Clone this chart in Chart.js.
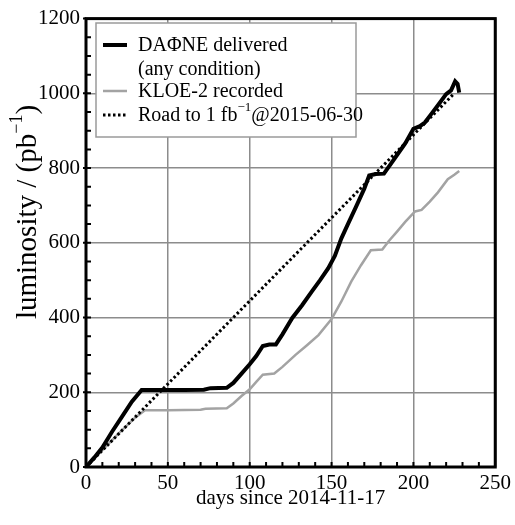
<!DOCTYPE html>
<html>
<head>
<meta charset="utf-8">
<script src="https://cdn.jsdelivr.net/npm/chart.js@4/dist/chart.umd.min.js"></script>
<style>
html,body{margin:0;padding:0;background:#fff;}
#wrap{width:515px;height:525px;position:relative;}
</style>
</head>
<body>
<div id="wrap"><canvas id="c"></canvas></div>
<script>
// ---- data ----
const xTickValues = [0, 50, 100, 150, 200, 250];
const yTickValues = [0, 200, 400, 600, 800, 1000, 1200];

const dafneDays = [0, 5, 10, 16, 22, 28, 34, 45, 60, 72, 76, 86, 90, 95, 100, 104, 108, 112, 116, 120, 126, 132, 138, 143, 148, 152, 156, 160, 165, 170, 173, 177, 182, 186, 190, 195, 200, 204, 207, 211, 215, 220, 223, 225.5, 227, 228];
const dafneLumi = [0, 25, 52, 95, 135, 175, 206, 206, 206, 207, 211, 212, 225, 250, 275, 297, 324, 328, 328, 355, 399, 433, 470, 500, 532, 565, 612, 650, 697, 745, 780, 784, 785, 810, 835, 866, 905, 912, 922, 945, 968, 998, 1008, 1032, 1025, 1002];

const kloeDays = [0, 10, 20, 30, 36, 50, 70, 73, 86, 90, 95, 100, 104, 108, 115, 120, 128, 135, 142, 150, 156, 162, 168, 174, 181, 185, 190, 195, 201, 205, 210, 215, 221, 225, 228];
const kloeLumi = [0, 45, 90, 132, 152, 152, 153, 156, 157, 170, 190, 208, 228, 247, 250, 268, 300, 326, 353, 396, 443, 496, 540, 580, 582, 605, 630, 656, 684, 688, 710, 735, 770, 782, 792];

const roadDays = [0, 225];
const roadLumi = [0, 1000];

const seriesNames = ['DAΦNE delivered', 'KLOE-2 recorded', 'Road to 1 fb'];
const xTitle = 'days since 2014-11-17';

const FONT = "'Liberation Serif', 'Times New Roman', serif";

function pts(xs, ys) { return xs.map((x, i) => ({ x: x, y: ys[i] })); }

const framePlugin = {
  id: 'frameAndExtras',
  afterDraw(chart) {
    const ctx = chart.ctx;
    const a = chart.chartArea;
    const xs = chart.scales.x, ys = chart.scales.y;
    ctx.save();
    // minor ticks (inward)
    ctx.strokeStyle = '#000';
    ctx.lineWidth = 2;
    ctx.beginPath();
    for (let d = 10; d < 250; d += 10) {
      const px = xs.getPixelForValue(d);
      ctx.moveTo(px, a.bottom);
      ctx.lineTo(px, a.bottom - 5);
    }
    for (let v = 50; v < 1200; v += 50) {
      const py = ys.getPixelForValue(v);
      ctx.moveTo(a.left, py);
      ctx.lineTo(a.left + 5, py);
    }
    // major y ticks outward
    yTickValues.forEach(v => {
      const py = ys.getPixelForValue(v);
      ctx.moveTo(a.left - 3, py);
      ctx.lineTo(a.left, py);
    });
    ctx.stroke();
    // frame
    ctx.lineWidth = 3;
    ctx.strokeRect(a.left, a.top, a.right - a.left, a.bottom - a.top);

    // legend box
    const ds = chart.data.datasets;
    const bx = 96, by = 23, bw = 260, bh = 114;
    ctx.fillStyle = '#fff';
    ctx.fillRect(bx, by, bw, bh);
    ctx.strokeStyle = '#9a9a9a';
    ctx.lineWidth = 1.5;
    ctx.strokeRect(bx, by, bw, bh);

    const rows = [
      { ds: ds[0], y: 46, text: seriesNames[0] },
      { ds: null, y: 70, text: '(any condition)' },
      { ds: ds[1], y: 92, text: seriesNames[1] },
      { ds: ds[2], y: 116, text: seriesNames[2], sup: '−1', after: '@2015-06-30' }
    ];
    ctx.font = '20px ' + FONT;
    ctx.textBaseline = 'middle';
    ctx.textAlign = 'left';
    rows.forEach(r => {
      if (r.ds) {
        ctx.save();
        ctx.strokeStyle = r.ds.borderColor;
        ctx.lineWidth = r.ds.borderWidth;
        ctx.setLineDash(r.ds.borderDash || []);
        ctx.beginPath();
        ctx.moveTo(103, r.y - 1);
        ctx.lineTo(127, r.y - 1);
        ctx.stroke();
        ctx.restore();
      }
      ctx.fillStyle = '#000';
      ctx.font = '20px ' + FONT;
      ctx.fillText(r.text, 138, r.y);
      if (r.sup) {
        let x = 138 + ctx.measureText(r.text).width;
        ctx.font = '13px ' + FONT;
        ctx.fillText(r.sup, x, r.y - 8);
        x += ctx.measureText(r.sup).width;
        ctx.font = '20px ' + FONT;
        ctx.fillText(r.after, x, r.y);
      }
    });

    // x title
    ctx.fillStyle = '#000';
    ctx.font = '21px ' + FONT;
    ctx.textAlign = 'center';
    ctx.textBaseline = 'middle';
    ctx.fillText(xTitle, (a.left + a.right) / 2, 498);

    // y title (rotated), with superscript
    const main1 = 'luminosity / (pb', sup = '−1', main2 = ')';
    ctx.save();
    ctx.translate(28, 212);
    ctx.rotate(-Math.PI / 2);
    ctx.textAlign = 'left';
    ctx.font = '29px ' + FONT;
    const w1 = ctx.measureText(main1).width;
    const w3 = ctx.measureText(main2).width;
    ctx.font = '18px ' + FONT;
    const w2 = ctx.measureText(sup).width;
    let x0 = -(w1 + w2 + w3) / 2;
    ctx.font = '29px ' + FONT;
    ctx.fillText(main1, x0, 0);
    ctx.font = '18px ' + FONT;
    ctx.fillText(sup, x0 + w1, -11);
    ctx.font = '29px ' + FONT;
    ctx.fillText(main2, x0 + w1 + w2, 0);
    ctx.restore();

    ctx.restore();
  }
};

new Chart(document.getElementById('c'), {
  type: 'scatter',
  data: {
    datasets: [
      { label: seriesNames[0], data: pts(dafneDays, dafneLumi), showLine: true, borderColor: '#000', borderWidth: 4, pointRadius: 0, tension: 0, order: 1 },
      { label: seriesNames[1], data: pts(kloeDays, kloeLumi), showLine: true, borderColor: '#a3a3a3', borderWidth: 2.5, pointRadius: 0, tension: 0, order: 3 },
      { label: seriesNames[2], data: pts(roadDays, roadLumi), showLine: true, borderColor: '#000', borderWidth: 3, borderDash: [2.5, 2.5], pointRadius: 0, tension: 0, order: 2 }
    ]
  },
  options: {
    responsive: true,
    maintainAspectRatio: false,
    animation: false,
    events: [],
    layout: { padding: { left: 0, top: 15, right: 16, bottom: 0 } },
    plugins: { legend: { display: false }, tooltip: { enabled: false } },
    scales: {
      x: {
        type: 'linear', min: 0, max: 250,
        afterBuildTicks: s => { s.ticks = xTickValues.map(v => ({ value: v })); },
        afterFit: s => { s.height = 58; },
        ticks: { font: { family: FONT, size: 21 }, color: '#000', padding: 4, maxRotation: 0, callback: v => String(v) },
        grid: { color: '#8c8c8c', lineWidth: 1.5, drawTicks: false },
        border: { display: false }
      },
      y: {
        type: 'linear', min: 0, max: 1200,
        afterBuildTicks: s => { s.ticks = yTickValues.map(v => ({ value: v })); },
        afterFit: s => { s.width = 86; },
        ticks: { font: { family: FONT, size: 21 }, color: '#000', padding: 6, callback: v => String(v) },
        grid: { color: '#8c8c8c', lineWidth: 1.5, drawTicks: false },
        border: { display: false }
      }
    }
  },
  plugins: [framePlugin]
});
</script>
</body>
</html>
